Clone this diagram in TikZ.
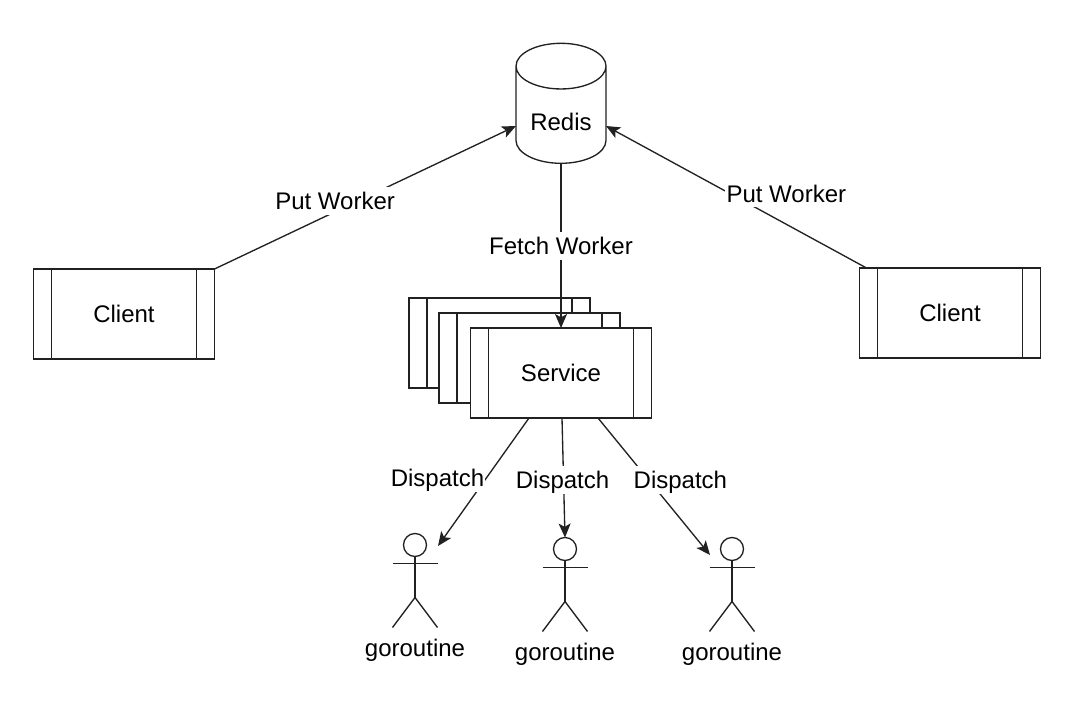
\documentclass[tikz,border=0pt]{standalone}
\usepackage{fontspec}
\setmainfont{Liberation Sans}
\definecolor{ln}{rgb}{0.13,0.13,0.13}
\usetikzlibrary{shapes.geometric, arrows.meta, positioning}

\begin{document}
\begin{tikzpicture}[
      x=0.75pt, y=-0.75pt,
      font=\fontsize{18pt}{21pt}\selectfont,
      color=ln, text=black, line width=1pt,
      procbox/.style={rectangle, draw, fill=white, outer sep=0pt,
                      minimum width=135.75pt, minimum height=67.5pt,
                      path picture={
                        \draw ([xshift=13.5pt]path picture bounding box.north west) -- ([xshift=13.5pt]path picture bounding box.south west);
                        \draw ([xshift=-13.5pt]path picture bounding box.north east) -- ([xshift=-13.5pt]path picture bounding box.south east);
                      }},
      db/.style={shape=cylinder, shape border rotate=90, shape aspect=0.65, draw, outer sep=0pt,
                 minimum width=67.5pt, minimum height=90pt, text height=16pt, text depth=0pt},
      head/.style={circle, draw, minimum size=17.25pt, inner sep=0pt, outer sep=0pt},
      lbl/.style={fill=white, inner xsep=1pt, inner ysep=0pt, text height=17pt, text depth=4pt},
      arr/.style={-{Stealth[length=10.5pt, width=9pt, inset=2.5pt]}},
      ]
    \useasboundingbox (0,0) rectangle (1078,710);

    \node[db] (redis) at (561,120) {Redis};

    % stacked services
    \node[procbox] (svcBack) at (499.5,343) {};
    \node[procbox] (svcMid) at (529.5,358) {};
    \node[procbox] (service) at (561,373) {Service};

    \node[procbox, left=192pt of service, yshift=44.25pt] (clientL) {Client};
    \node[procbox, right=156pt of service, yshift=45pt] (clientR) {Client};

    \coordinate (redisL) at (516,126);
    \coordinate (redisR) at (606,126);
    \coordinate (tipA) at (438,546);
    \coordinate (tipC) at (710,555);

    % actors
    \foreach \n/\x/\y/\t in {A/415/545/650, B/565/549/654, C/732/549/654} {
      \node[head] (head\n) at (\x,\y) {};
      \draw (head\n.south) -- ++(0,41) coordinate (hip\n);
      \draw ([yshift=-5pt]head\n.south) ++(-22.5,0) -- ++(45,0);
      \draw (hip\n) -- ++(-22.5,30);
      \draw (hip\n) -- ++(22.5,30);
      \node (name\n) at (\x,\t) {goroutine};
    }

    \draw[arr] (clientL.north east) -- node[lbl, pos=0.4, yshift=8.25pt] {Put Worker} (redisL);
    \draw[arr] ([xshift=5.25pt]clientR.north west) -- node[lbl, pos=0.3, xshift=-1.5pt, yshift=24pt] {Put Worker} (redisR);
    \draw[arr] (redis.south) -- node[lbl, pos=0.5] {Fetch Worker} (service.north);
    \draw[arr] ([xshift=-24pt]service.south) -- node[lbl, pos=0.46, left=0.75pt, yshift=-0.75pt] {Dispatch} (tipA);
    \draw[arr] ([xshift=0.75pt]service.south) -- node[lbl, pos=0.52, xshift=-0.75pt] {Dispatch} (headB.north);
    \draw[arr] ([xshift=27.75pt]service.south) -- node[lbl, pos=0.45, xshift=24pt] {Dispatch} (tipC);
  \end{tikzpicture}
\end{document}
